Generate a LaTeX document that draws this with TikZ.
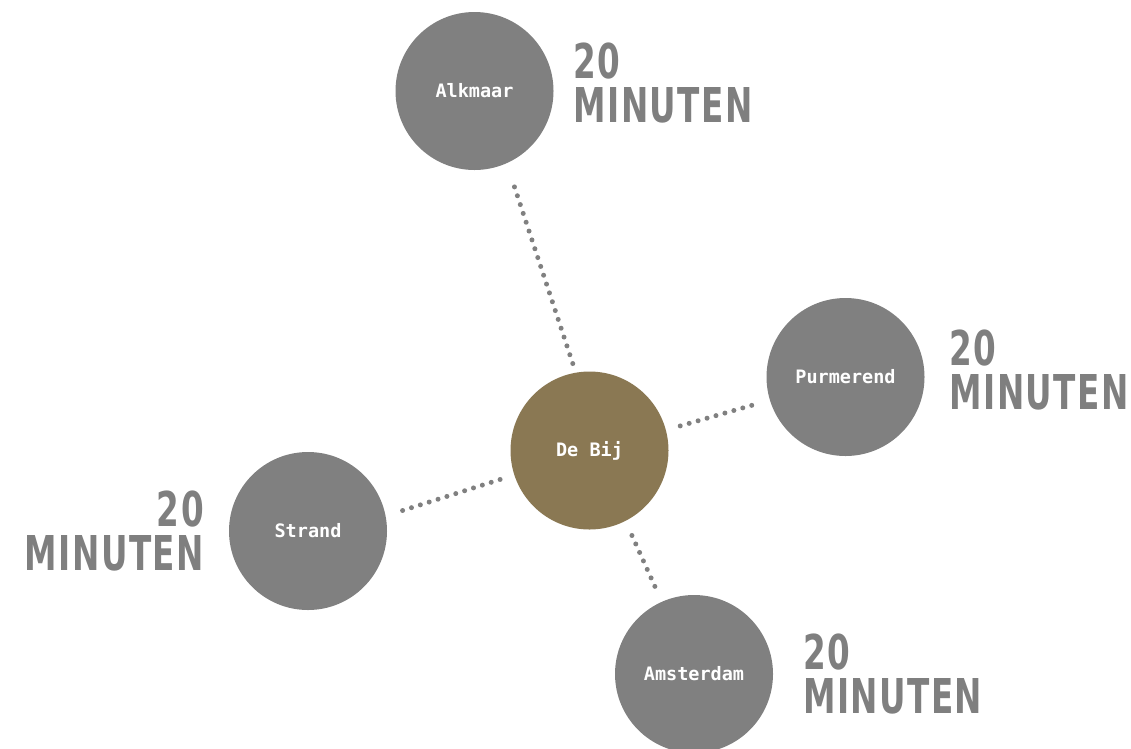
\documentclass[tikz,border=0pt]{standalone}
\usepackage{fontspec}
\usetikzlibrary{positioning}
\newfontfamily\cityfont{DejaVu Sans Mono}
\newfontfamily\minfont{DejaVu Sans}[FakeStretch=0.68,LetterSpace=3]
\definecolor{circlegray}{HTML}{808080}
\definecolor{bijbrown}{HTML}{8A7853}
\definecolor{textgray}{HTML}{7F7F7F}

\begin{document}
\begin{tikzpicture}[x=1pt,y=-1pt]
\tikzset{city/.style={circle,fill=circlegray,minimum size=158pt,inner sep=0pt,outer sep=0pt,text=white,font=\cityfont\bfseries\fontsize{18.5}{20}\selectfont}}
\tikzset{hub/.style={city,fill=bijbrown}}
\tikzset{minutes/.style={text=textgray,inner sep=0pt,font=\minfont\bfseries\fontsize{48}{44}\selectfont}}
\tikzset{dotline/.style={draw=circlegray,line width=5pt,line cap=round,dash pattern=on 0pt off 9.3pt}}

\useasboundingbox (0,0) rectangle (1131,748);

\node[hub] (bij) at (589.5,450.5) {De Bij};
\node[city] (alk) at (474.5,91) {Alkmaar};
\node[city] (pur) at (845.5,377) {Purmerend};
\node[city] (str) at (308,531) {Strand};
\node[city] (ams) at (694,674) {Amsterdam};

\node[minutes,align=left,right=20pt of alk,yshift=8pt] (alkmin) {20\\MINUTEN};
\node[minutes,align=left,right=25pt of pur,yshift=6.5pt] (purmin) {20\\MINUTEN};
\node[minutes,align=right,left=25pt of str] (strmin) {20\\MINUTEN};
\node[minutes,align=left,right=30pt of ams] (amsmin) {20\\MINUTEN};

\draw[dotline,shorten <=25pt,shorten >=8pt] (alk.-66) -- (bij.100);
\draw[dotline,shorten <=15pt,shorten >=13pt] (bij.15) -- (pur.197.6);
\draw[dotline,shorten <=15pt,shorten >=17pt] (bij.198) -- (str.11.4);
\draw[dotline,shorten <=16pt,shorten >=14pt] (bij.-63) -- (ams.114.6);

\end{tikzpicture}
\end{document}
